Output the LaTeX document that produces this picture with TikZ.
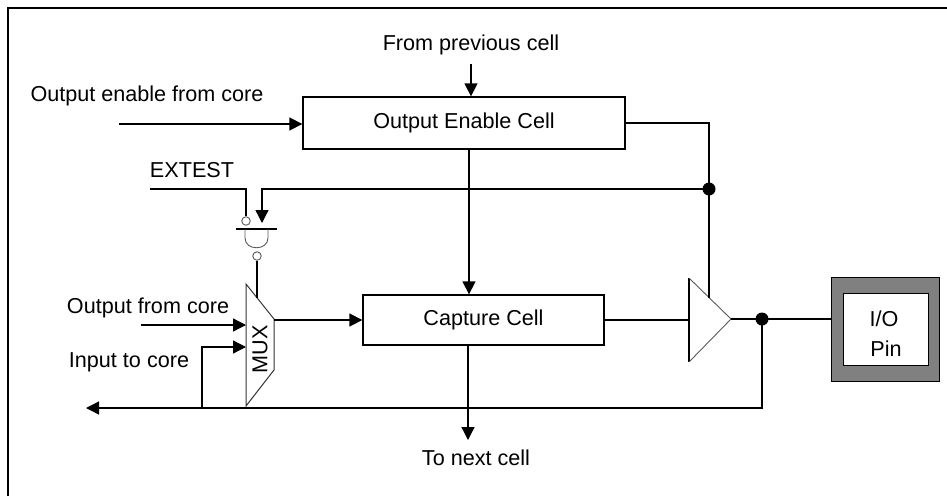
\documentclass[tikz,border=0pt]{standalone}
\usepackage{fontspec}
\setmainfont{Liberation Sans}
\usetikzlibrary{arrows.meta}
\begin{document}
\begin{tikzpicture}[x=1pt,y=-1pt,
  lbl/.style={font=\fontsize{21.6}{26}\selectfont, inner sep=0pt, anchor=base},
  cellbox/.style={draw, line width=1.3pt, rectangle, inner sep=0pt, font=\fontsize{21.6}{26}\selectfont},
  wire/.style={line width=1.3pt},
  arr/.style={wire, -{Triangle[length=13pt,width=13pt]}},
  thinline/.style={line width=0.9pt, draw=black!65},
  dotj/.style={circle, fill=black, inner sep=0pt, minimum width=12pt, minimum height=13pt},
  bubble/.style={circle, draw=black!65, line width=0.9pt, fill=white, inner sep=0pt, minimum size=8.5pt},
]
\useasboundingbox (0,0) rectangle (947,496);
% frame
\draw[line width=1.6pt] (8,496) -- (8,8) -- (947,8);

% cells
\node[cellbox, minimum width=322pt, minimum height=52pt] (oe) at (464,123) {Output Enable Cell};
\node[cellbox, minimum width=241pt, minimum height=50pt] (cap) at (483.5,320) {Capture Cell};

% labels
\node[lbl] (tprev) at (471,50) {From previous cell};
\node[lbl] (toen) at (147,101.5) {Output enable from core};
\node[lbl] (textest) at (192,177) {EXTEST};
\node[lbl] (tout) at (148,313.3) {Output from core};
\node[lbl] (tin) at (129,367.3) {Input to core};
\node[lbl] (tnext) at (476,465) {To next cell};

% I/O pin
\node[draw=black, line width=1pt, fill=black!50, minimum width=108pt, minimum height=104pt, inner sep=0pt] (io) at (885,329) {};
\node[draw=black, line width=1pt, fill=white, minimum width=85pt, minimum height=72pt, inner sep=0pt] (ioin) at (885.5,329) {};
\node[lbl] (tio) at (884,326.7) {I/O};
\node[lbl] (tpin) at (886,356.7) {Pin};

% MUX
\coordinate (mtl) at (246,284);
\coordinate (mtr) at (274,319);
\coordinate (mbr) at (274,370);
\coordinate (mbl) at (246,406);
\draw[line width=1pt, draw=black!80] (mtl) -- (mtr) -- (mbr) -- (mbl) -- cycle;
\node[font=\fontsize{21.6}{26}\selectfont, rotate=90, inner sep=0pt] (muxt) at (260,349) {MUX};

% buffer
\coordinate (btop) at (689,278);
\coordinate (bbot) at (689,362);
\coordinate (btip) at (731,319);
\draw[wire] (btop) -- (bbot);
\draw[thinline] (btop) -- (btip) -- (bbot);

% gate (inverted AND)
\coordinate (gbl) at (236,229);
\coordinate (gbr) at (277,229);
\draw[wire] (gbl) -- (gbr);
\draw[thinline] (245,229) -- (245,238) .. controls (245,251) and (268,251) .. (268,238) -- (268,229);
\node[bubble] (gb1) at (246,221) {};
\node[bubble] (gb2) at (257,256) {};
\draw[wire] (gb2.south) -- (257,297.8);

% junctions
\node[dotj] (j1) at (709,189) {};
\node[dotj] (j2) at (762,319) {};

% connectors
\coordinate (prev) at (471,64);
\draw[arr] (prev) -- (prev |- oe.north);
\coordinate (oein) at (119,124);
\draw[arr] (oein) -- (oein -| oe.west);
\draw[wire] (oe.east) -- (709,123) -- (j1.center) -- (709,297.5);
\coordinate (ext) at (150,189);
\draw[wire] (ext) -- (246,189) -- (gb1.north);
\coordinate (gin2) at (262,223);
\draw[arr] (j1.center) -- (262,189) -- (gin2);
\draw[arr] ([xshift=5pt]oe.south) -- ([xshift=5pt]oe.south |- cap.north);
\draw[arr] (274,320) -- (cap.west);
\draw[wire] (cap.east) -- (bbot |- cap.east);
\draw[wire] (btip) -- (btip -| io.west);
\coordinate (leftend) at (86,408);
\draw[arr] (j2.center) -- (762,408) -- (leftend);
\coordinate (oin) at (141,325);
\draw[arr] (oin) -- (246,325);
\draw[arr] (202,408) -- (202,347) -- (246,347);
\coordinate (nextc) at (468,440);
\draw[arr] ([xshift=-15.5pt]cap.south) -- (nextc);
\end{tikzpicture}
\end{document}
